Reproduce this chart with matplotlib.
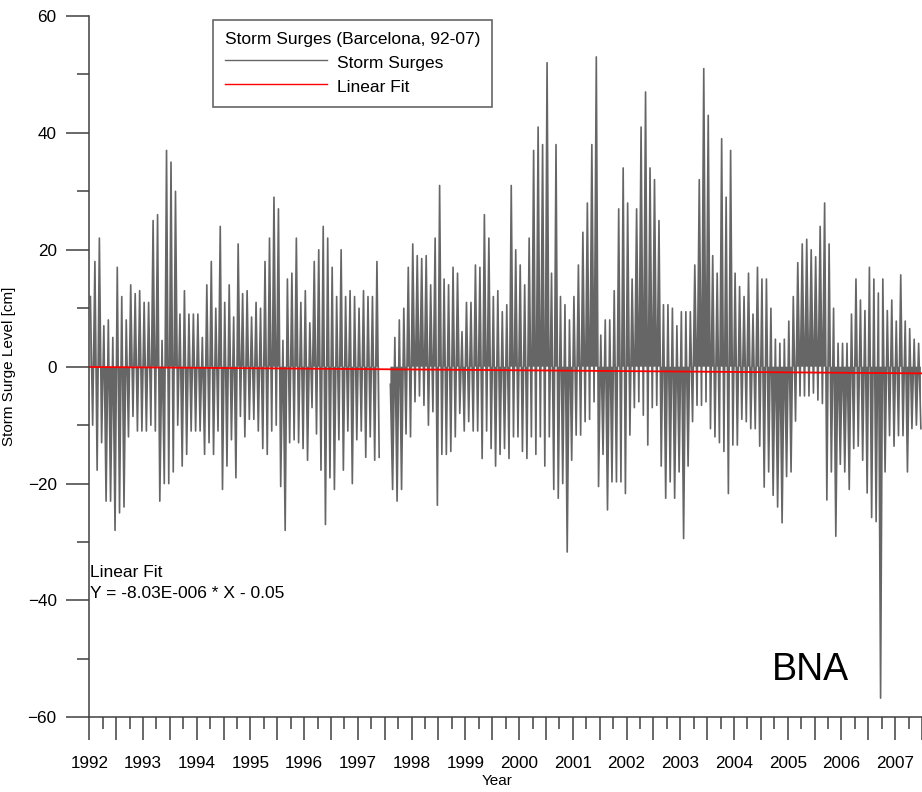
import numpy as np
import matplotlib.pyplot as plt
from matplotlib.ticker import MultipleLocator, FuncFormatter

plt.rcParams['font.family'] = ['Liberation Sans', 'DejaVu Sans']

nan = np.nan

# Monthly extremes of the hourly storm surge record at Barcelona [cm]
# (one row per year, Jan..Dec; no data June-July 1997; record ends mid 2007)
surge_max = [
    12, 18, 22, 7, 8, 5, 17, 12, 8, 14, 12.5, 13,            # 1992
    11, 11, 25, 26, 4.5, 37, 35, 30, 9, 13, 9, 9,            # 1993
    9, 5, 14, 18, 10, 24, 11, 14, 8.5, 21, 12.5, 13,         # 1994
    8.5, 11, 10, 18, 22, 29, 27, 4.5, 15, 16, 22, 11,        # 1995
    13, 7.5, 18, 20, 24, 22, 17, 12, 20, 12, 13, 12,         # 1996
    10, 13, 12, 12, 18, nan, nan, -3, 5, 8, 10, 17,          # 1997
    21, 19, 18.5, 19, 14, 22, 31, 15, 14, 17, 16, 6,         # 1998
    11, 11, 17.4, 17, 26, 22, 12, 13, 9.4, 10.6, 31, 20,     # 1999
    17.4, 14, 22, 37, 41, 38, 52, 16, 38, 12, 10.6, 8,       # 2000
    12, 17.4, 23, 28, 38, 53, 5.4, 8, 8, 13, 27, 34,         # 2001
    28, 15, 27, 41, 47, 34, 32, 25, 10.6, 10.6, 10, 7,       # 2002
    9.4, 9.4, 9.4, 17.4, 32, 51, 43, 19, 16, 39, 29, 37,     # 2003
    16, 13.7, 12, 16, 9, 17, 15, 15, 10, 4.7, 4, 4.7,        # 2004
    7.8, 12, 17.8, 21, 21.8, 20, 18.8, 24, 28, 21, 10, 4,    # 2005
    4, 4, 9, 15, 11.4, 9.6, 17, 15, 12.6, 15, 9.6, 11.4,     # 2006
    7.8, 15.7, 7.8, 6.5, 4.7, 4,                             # 2007
]
surge_min = [
    -10, -17.7, -13, -23, -23, -28, -25, -24, -12, -8.5, -11, -11,         # 1992
    -11, -10, -11, -23, -20, -20, -18, -10, -17, -15, -11, -11,            # 1993
    -11, -15, -13, -15, -11, -21, -17, -12.5, -19, -8.5, -12, -9,          # 1994
    -9, -11, -14, -15, -11, -10, -20.5, -28, -13, -12.5, -13, -14,         # 1995
    -16, -7, -11.5, -17.7, -27, -19, -21, -12.5, -17.7, -11, -20, -12.5,   # 1996
    -11, -15.5, -12, -16, -15.5, nan, nan, -21, -23, -21, -11.5, -12,      # 1997
    -6, -5, -6.6, -10, -7.7, -23.7, -15, -15, -14.5, -12, -8, -11,         # 1998
    -9.4, -11, -11, -15.7, -11, -14, -17, -15, -14, -15.7, -12, -12,       # 1999
    -14.5, -15.7, -12, -15, -12, -17, -12, -21, -22.5, -20, -31.7, -16,    # 2000
    -11.7, -11.7, -9.4, -9, -6, -20.5, -15, -24.5, -19.7, -19.7, -19.7, -21.7,  # 2001
    -11.7, -7, -6, -8.3, -13.4, -7, -6.6, -17, -22.5, -19.7, -22.5, -18,   # 2002
    -29.4, -17, -9.4, -6.6, -6.6, -6, -10.6, -12, -13, -14.5, -21.7, -13.4,  # 2003
    -13.4, -9, -9.4, -10.6, -10.6, -13.6, -20.6, -18, -22, -24, -26.7, -18.8,  # 2004
    -18, -9.3, -5, -5, -5, -4.5, -5.7, -6.3, -22.8, -18, -29, -16.7,       # 2005
    -18, -21, -14, -13.6, -16, -21.6, -25.8, -26.5, -56.7, -18, -11.8, -13.6,  # 2006
    -11.8, -11.8, -18, -10.6, -10, -10.6,                                  # 2007
]

# linear fit, X in hours since 1 Jan 1992
fit_slope = -8.03E-006
fit_intercept = -0.05
fit_text = 'Linear Fit\nY = -8.03E-006 * X - 0.05'

start_year = 1992
end_year = 2007.5

# each month: its maximum then its minimum
months = np.arange(len(surge_max))
t = np.column_stack([start_year + (months + 0.25) / 12,
                     start_year + (months + 0.75) / 12]).ravel()
level = np.column_stack([surge_max, surge_min]).ravel()

t_fit = np.array([start_year, end_year])
fit = fit_slope * (t_fit - start_year) * 8766 + fit_intercept

fig = plt.figure(figsize=(9.22, 7.92), dpi=100)
ax = fig.add_axes([89.3 / 922, 1 - 717.4 / 792, 1 - 89.3 / 922, (717.4 - 16) / 792])

gray = '#666666'
ax.fill_between(t, level, 0, color=gray, lw=0)
surge_line, = ax.plot(t, level, color=gray, lw=1.2, label='Storm Surges')
fit_line, = ax.plot(t_fit, fit, color='#ff0000', lw=1.3, label='Linear Fit')

ax.set_xlim(start_year, end_year)
ax.set_ylim(-60, 60)

for s in ['top', 'right']:
    ax.spines[s].set_visible(False)
for s in ['left', 'bottom']:
    ax.spines[s].set_color('#404040')
    ax.spines[s].set_linewidth(1.1)

ax.xaxis.set_major_locator(MultipleLocator(0.5))
ax.xaxis.set_minor_locator(MultipleLocator(0.25))
ax.xaxis.set_major_formatter(FuncFormatter(lambda x, p: f'{int(round(x))}' if abs(x - round(x)) < 1e-6 else ''))
ax.yaxis.set_major_locator(MultipleLocator(20))
ax.yaxis.set_minor_locator(MultipleLocator(10))
ax.tick_params(which='major', length=16.5, width=1.1, color='#404040', labelsize=12.3)
ax.tick_params(which='minor', length=8.3, width=1.1, color='#404040')
ax.tick_params(axis='x', which='major', pad=11)
ax.tick_params(axis='y', which='major', pad=7)

ax.set_xlabel('Year', fontsize=11)
ax.set_ylabel('Storm Surge Level [cm]', fontsize=11)
ax.xaxis.set_label_coords((497 - 89.3) / 832.7, -0.08)
ax.yaxis.set_label_coords(-0.088, 0.5)

ax.text(start_year + 0.02, -33.9, fit_text, fontsize=12.5, ha='left', va='top', linespacing=1.55)
ax.text(2005.415, -53.6, 'BNA', fontsize=27, ha='center', va='baseline')

leg = ax.legend(handles=[surge_line, fit_line], title='Storm Surges (Barcelona, 92-07)',
                loc='upper left', bbox_to_anchor=(212.7 / 922, 1 - 20 / 792),
                bbox_transform=fig.transFigure, borderaxespad=0, fancybox=False,
                edgecolor='#666666', framealpha=1, fontsize=12.5, title_fontsize=12.5,
                alignment='left', handlelength=5.9, handletextpad=0.6,
                handleheight=1.2, labelspacing=0.36, borderpad=0.68)
leg.get_frame().set_linewidth(1.2)
for h in leg.legend_handles:
    h.set_linewidth(1.0)

fig.savefig('out.png', dpi=100)
